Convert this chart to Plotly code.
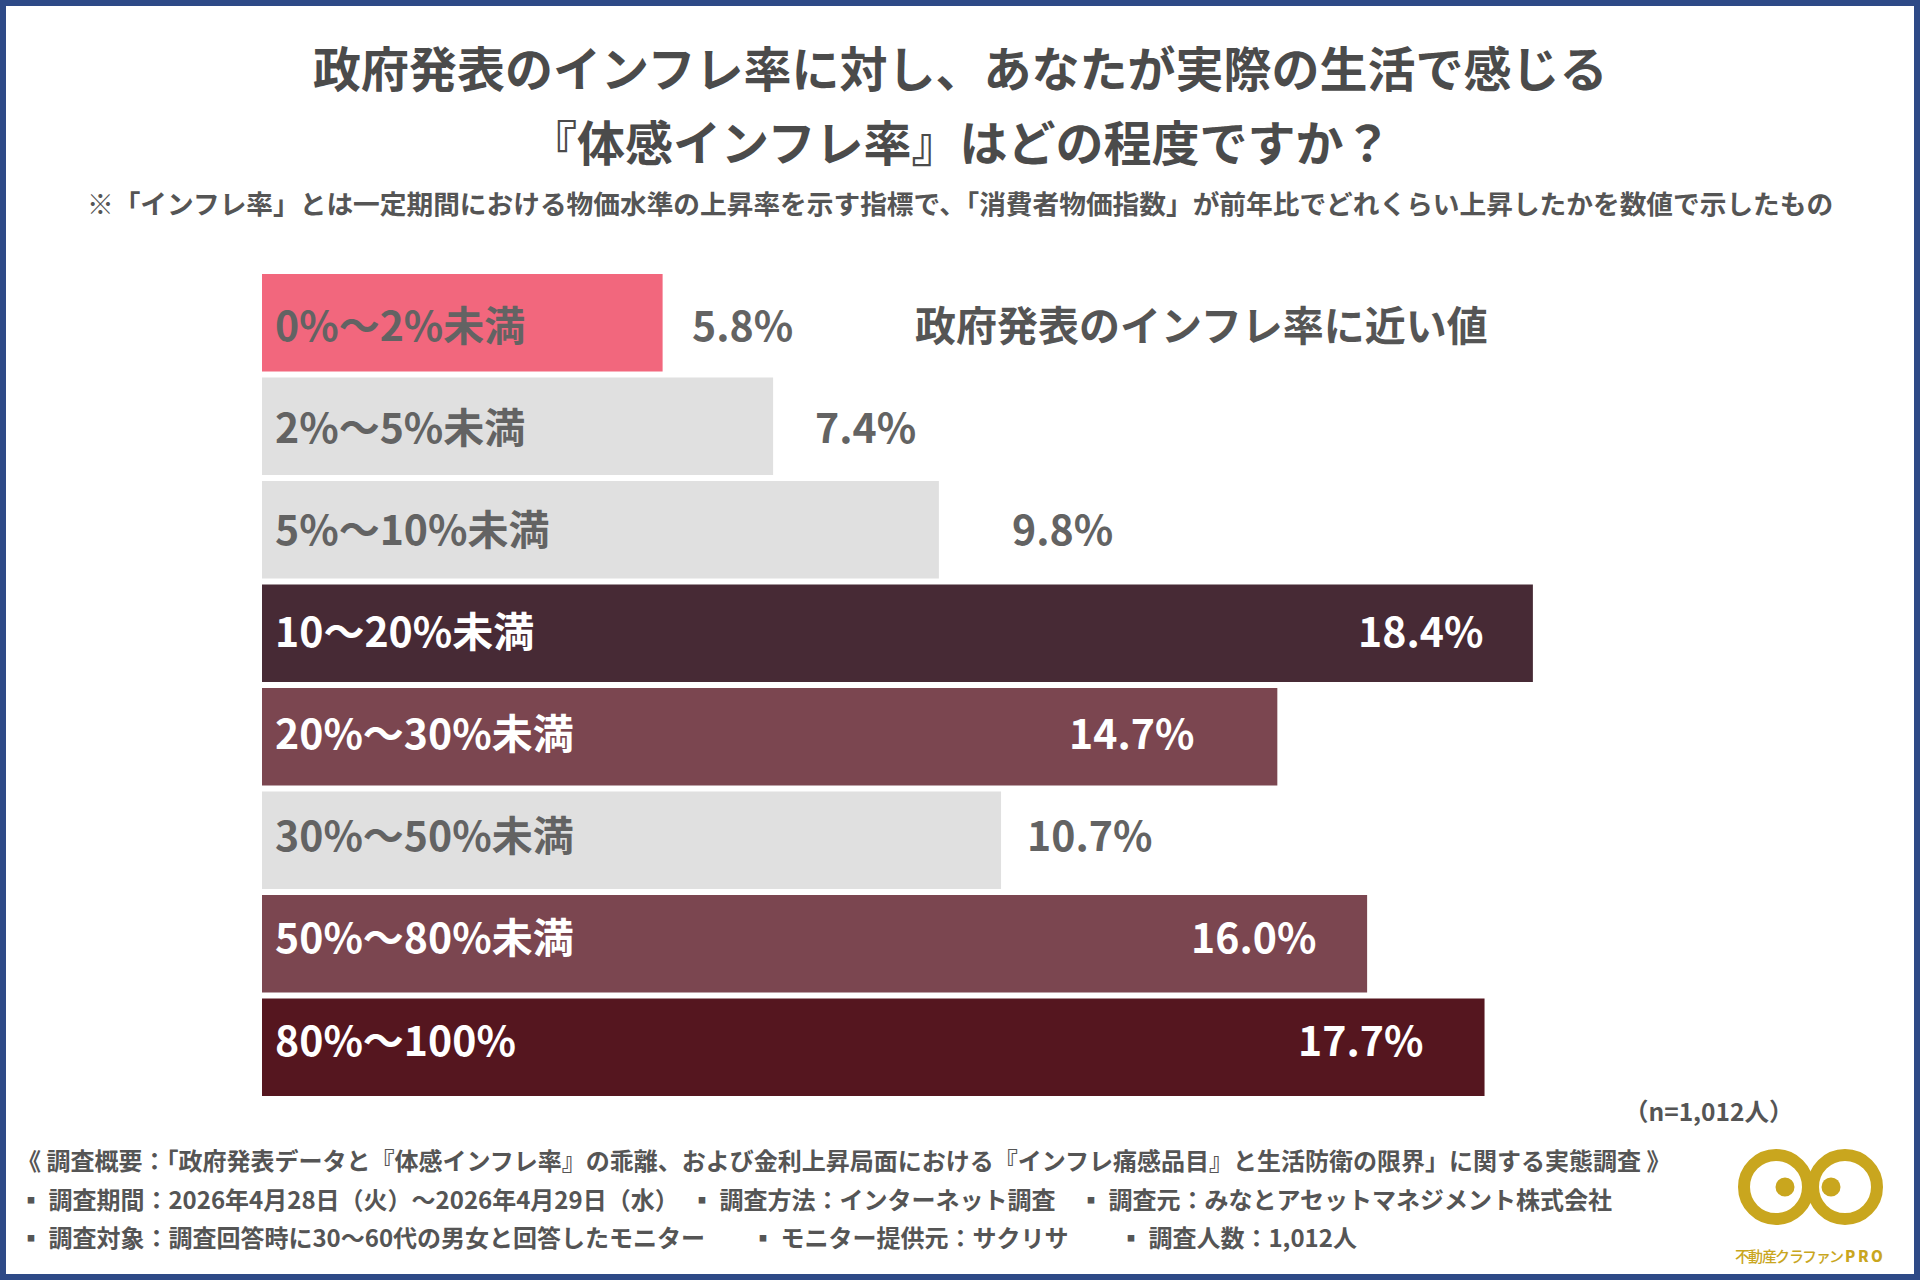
import plotly.graph_objects as go

# ---- data ----
categories = ["0%～2%未満", "2%～5%未満", "5%～10%未満", "10～20%未満",
              "20%～30%未満", "30%～50%未満", "50%～80%未満", "80%～100%"]
values = [5.8, 7.4, 9.8, 18.4, 14.7, 10.7, 16.0, 17.7]
value_labels = ["5.8%", "7.4%", "9.8%", "18.4%", "14.7%", "10.7%", "16.0%", "17.7%"]

title_lines = ["政府発表のインフレ率に対し、あなたが実際の生活で感じる",
               "『体感インフレ率』はどの程度ですか？"]
subtitle = "※「インフレ率」とは一定期間における物価水準の上昇率を示す指標で、「消費者物価指数」が前年比でどれくらい上昇したかを数値で示したもの"
note_gov = "政府発表のインフレ率に近い値"
n_label = "（n=1,012人）"
footer_line1 = "《 調査概要：「政府発表データと『体感インフレ率』の乖離、および金利上昇局面における『インフレ痛感品目』と生活防衛の限界」に関する実態調査 》"
footer_line2 = ["▪ 調査期間：2026年4月28日（火）～2026年4月29日（水）",
                "▪ 調査方法：インターネット調査",
                "▪ 調査元：みなとアセットマネジメント株式会社"]
footer_line3 = ["▪ 調査対象：調査回答時に30～60代の男女と回答したモニター",
                "▪ モニター提供元：サクリサ",
                "▪ 調査人数：1,012人"]
logo_text = "不動産クラファンPRO"

# ---- styles ----
W, H = 1920, 1280
FONT = "Noto Sans CJK JP"
PINK = "#F2677D"
GRAY = "#E0E0E0"
DARK = "#472A35"
MID = "#7B4650"
DEEP = "#55161F"
bar_colors = [PINK, GRAY, GRAY, DARK, MID, GRAY, MID, DEEP]
inside = [False, False, False, True, True, False, True, True]
label_shift = [27, 40, 71, -48, -81, 24, -49, -60]  # px offset of value labels
TEXT_GRAY = "#636363"
TITLE_GRAY = "#4B4B4B"
GOLD = "#C9A61E"
FRAME = "#2E4A87"

px_per_unit = 69.07
bar_left = 262
row_drift = 1.38  # px per row that labels rise relative to bar centres

def px(x):
    return x / W

def py(y):
    return 1 - y / H

fig = go.Figure(go.Bar(
    y=categories, x=values, orientation="h",
    marker=dict(color=bar_colors, line=dict(width=0)),
    hoverinfo="skip", showlegend=False,
))

annotations = []
for i, (cat, v, lab) in enumerate(zip(categories, values, value_labels)):
    dark = bar_colors[i] in (DARK, MID, DEEP)
    col = "white" if dark else TEXT_GRAY
    ys = row_drift * i
    annotations.append(dict(x=0, y=cat, xref="x", yref="y", text=cat,
                            xanchor="left", xshift=11, yshift=ys, showarrow=False,
                            font=dict(family=FONT, size=41, color=col, weight=700)))
    annotations.append(dict(x=v, y=cat, xref="x", yref="y", text=lab,
                            xanchor="right" if inside[i] else "left",
                            xshift=label_shift[i], yshift=ys, showarrow=False,
                            font=dict(family=FONT, size=41,
                                      color="white" if inside[i] else TEXT_GRAY, weight=700)))

annotations.append(dict(x=px(913), y=categories[0], xref="paper", yref="y", text=note_gov,
                        xanchor="left", showarrow=False,
                        font=dict(family=FONT, size=41, color="#555555", weight=700)))

for t, yy in zip(title_lines, [66, 140]):
    annotations.append(dict(x=0.5, y=py(yy), xref="paper", yref="paper", text=t,
                            xanchor="center", yanchor="middle", showarrow=False,
                            font=dict(family=FONT, size=48, color=TITLE_GRAY, weight=700)))
annotations.append(dict(x=0.5, y=py(202), xref="paper", yref="paper", text=subtitle,
                        xanchor="center", yanchor="middle", showarrow=False,
                        font=dict(family=FONT, size=26.7, color="#555555", weight=700)))
annotations.append(dict(x=px(1622), y=py(1110), xref="paper", yref="paper", text=n_label,
                        xanchor="left", yanchor="middle", showarrow=False,
                        font=dict(family=FONT, size=24.5, color="#555555", weight=700)))

fs = 24
annotations.append(dict(x=px(15), y=py(1159.5), xref="paper", yref="paper", text=footer_line1,
                        xanchor="left", yanchor="middle", showarrow=False,
                        font=dict(family=FONT, size=fs, color="#555555", weight=700)))
for t, xx in zip(footer_line2, [17, 688, 1077]):
    annotations.append(dict(x=px(xx), y=py(1198.5), xref="paper", yref="paper", text=t,
                            xanchor="left", yanchor="middle", showarrow=False,
                            font=dict(family=FONT, size=fs, color="#555555", weight=700)))
for t, xx in zip(footer_line3, [17, 749, 1117]):
    annotations.append(dict(x=px(xx), y=py(1236.5), xref="paper", yref="paper", text=t,
                            xanchor="left", yanchor="middle", showarrow=False,
                            font=dict(family=FONT, size=fs, color="#555555", weight=700)))

# logo text, letter-spaced across a fixed span
lx0, lx1 = 1742, 1877
n_ch = len(logo_text)
for k, ch in enumerate(logo_text):
    cxk = lx0 + (lx1 - lx0) * k / (n_ch - 1)
    annotations.append(dict(x=px(cxk), y=py(1255), xref="paper", yref="paper", text=ch,
                            xanchor="center", yanchor="middle", showarrow=False,
                            font=dict(family=FONT, size=15, color=GOLD,
                                      weight=800 if ch in "PRO" else 500)))

shapes = []
# frame
bw = 6
for (x0, y0, x1, y1) in [(0, 0, W, bw), (0, H - bw, W, H), (0, 0, bw, H), (W - bw, 0, W, H)]:
    shapes.append(dict(type="rect", xref="paper", yref="paper",
                       x0=px(x0), x1=px(x1), y0=py(y1), y1=py(y0),
                       fillcolor=FRAME, line=dict(width=0), layer="above"))
# logo rings and dots
ring_r = 32
for cx, dx in [(1776, 1785), (1845, 1831)]:
    cy = 1187
    shapes.append(dict(type="circle", xref="paper", yref="paper",
                       x0=px(cx - ring_r), x1=px(cx + ring_r),
                       y0=py(cy + ring_r), y1=py(cy - ring_r),
                       line=dict(color=GOLD, width=12), fillcolor="rgba(0,0,0,0)"))
    dr = 9.5
    shapes.append(dict(type="circle", xref="paper", yref="paper",
                       x0=px(dx - dr), x1=px(dx + dr), y0=py(cy + dr), y1=py(cy - dr),
                       line=dict(width=0), fillcolor=GOLD))

band_top, band_bot = 271, 1099
fig.update_layout(
    width=W, height=H,
    margin=dict(l=0, r=0, t=0, b=0),
    paper_bgcolor="white", plot_bgcolor="white",
    bargap=0.058,
    xaxis=dict(domain=[bar_left / W, 1], range=[0, (W - bar_left) / px_per_unit],
               visible=False, fixedrange=True),
    yaxis=dict(domain=[py(band_bot), py(band_top)], range=[7.5, -0.5], type="category",
               visible=False, fixedrange=True),
    annotations=annotations,
    shapes=shapes,
    font=dict(family=FONT),
)

fig.write_html("out.html", config={"displayModeBar": False})
